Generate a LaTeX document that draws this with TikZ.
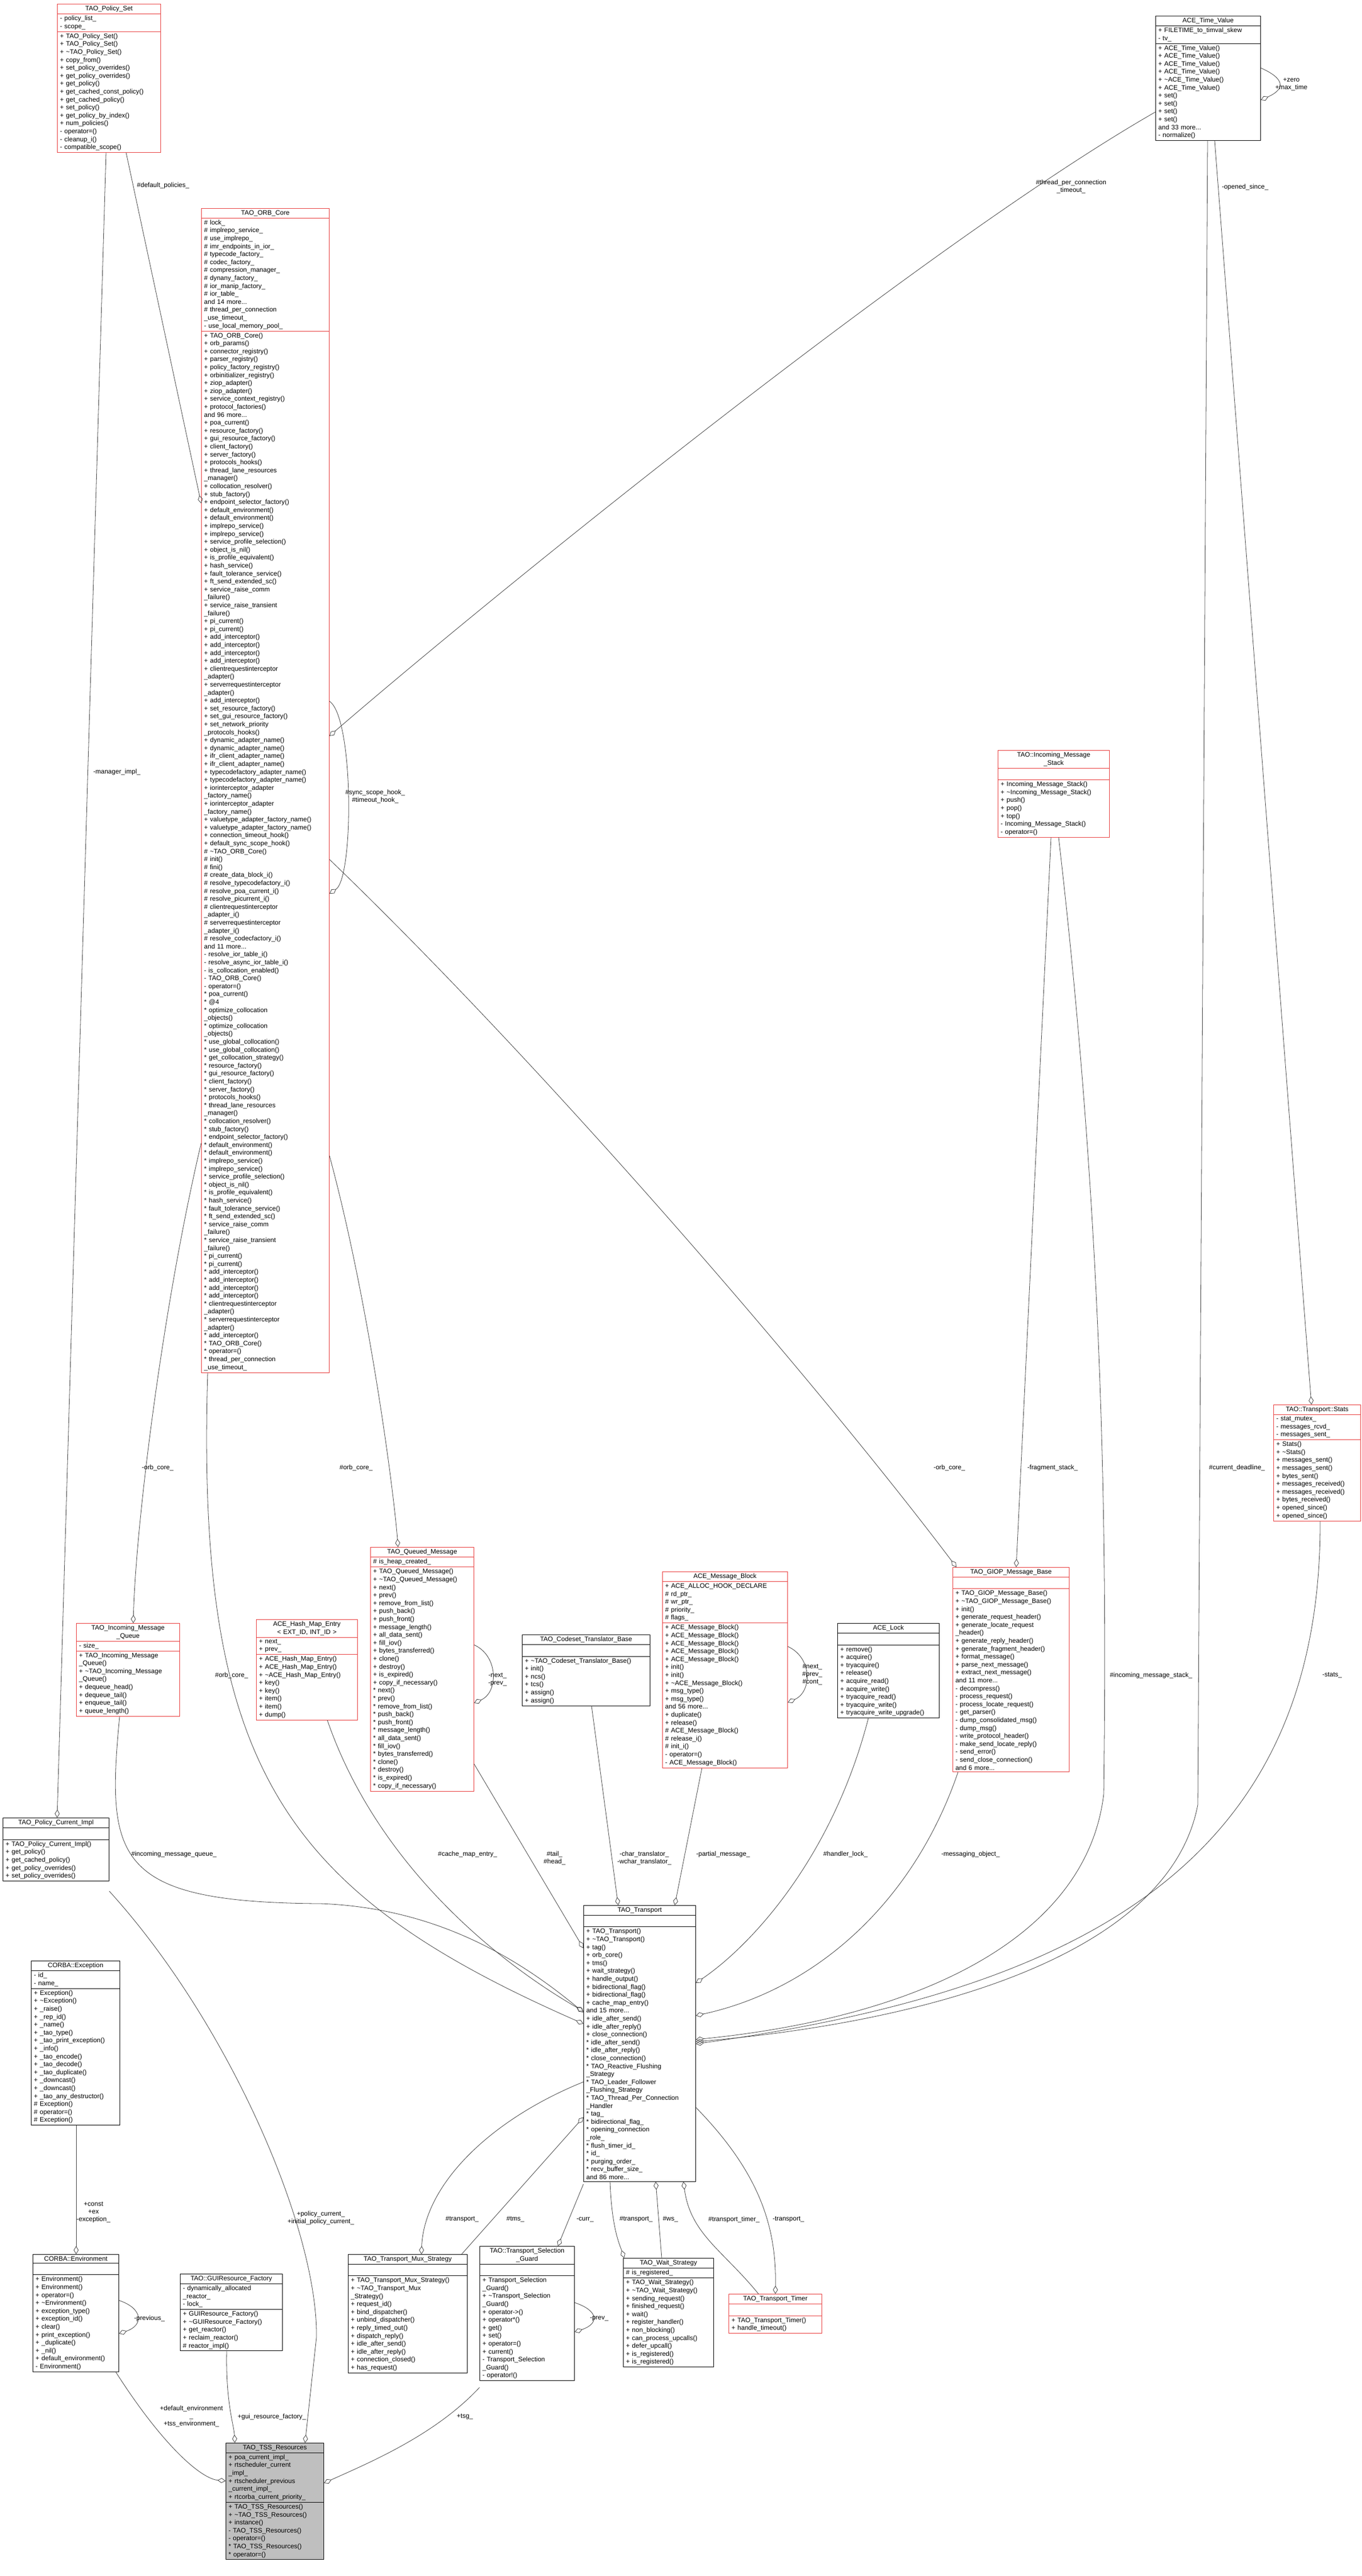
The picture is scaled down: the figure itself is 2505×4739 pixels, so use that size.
\documentclass[tikz,border=0pt]{standalone}
\usepackage{fontspec}
\setmainfont{Liberation Sans}
\usetikzlibrary{shapes.multipart,arrows.meta}
\definecolor{umlred}{HTML}{E83A3A}
\definecolor{umlgrey}{HTML}{BFBFBF}
\definecolor{linegrey}{HTML}{404040}
\newcommand\classfont{\fontsize{12}{14.6}\selectfont}
\newcommand\rolefont{\fontsize{12}{14}\selectfont}
\newcommand\tld{\textasciitilde}
\newcommand\fr{*}
% class box: style, name, x, y, text width, title, attributes, methods
\newcommand\classnode[8]{%
  \node[#1, text width=#5] (#2) at (#3,#4)
    {\centering #6\par\nodepart{two}\raggedright #7\par\nodepart{three}\raggedright #8\par};}
\tikzset{
  classbox/.style={draw, rectangle split, rectangle split parts=3, anchor=north west,
    inner xsep=5pt, inner ysep=3pt, font=\classfont, line width=0.9pt},
  redbox/.style={classbox, draw=umlred},
  blackbox/.style={classbox, draw=black},
  tssbox/.style={classbox, draw=black, fill=umlgrey},
  assoc/.style={draw=linegrey, line width=0.8pt, -{Diamond[open,length=15pt,width=9pt]}},
  rolelabel/.style={font=\rolefont, align=center, inner sep=1pt}
}
\AtBeginDocument{\catcode`\_=12 }
\begin{document}
\begin{tikzpicture}[x=1pt,y=-1pt]
  \fill[white] (0,0) rectangle (2505,4739);
  \useasboundingbox (0,0) rectangle (2505,4739);

  % classes
  \classnode{redbox}{policyset}{105}{7}{180}{TAO_Policy_Set}
    {- policy_list_\\- scope_}
    {+ TAO_Policy_Set()\\+ TAO_Policy_Set()\\+ \tld TAO_Policy_Set()\\+ copy_from()\\+ set_policy_overrides()\\+ get_policy_overrides()\\+ get_policy()\\+ get_cached_const_policy()\\+ get_cached_policy()\\+ set_policy()\\+ get_policy_by_index()\\+ num_policies()\\- operator=()\\- cleanup_i()\\- compatible_scope()}
  \classnode{redbox}{orbcore}{370}{383}{225}{TAO_ORB_Core}
    {\# lock_\\\# implrepo_service_\\\# use_implrepo_\\\# imr_endpoints_in_ior_\\\# typecode_factory_\\\# codec_factory_\\\# compression_manager_\\\# dynany_factory_\\\# ior_manip_factory_\\\# ior_table_\\and 14 more...\\\# thread_per_connection\\_use_timeout_\\- use_local_memory_pool_}
    {+ TAO_ORB_Core()\\+ orb_params()\\+ connector_registry()\\+ parser_registry()\\+ policy_factory_registry()\\+ orbinitializer_registry()\\+ ziop_adapter()\\+ ziop_adapter()\\+ service_context_registry()\\+ protocol_factories()\\and 96 more...\\+ poa_current()\\+ resource_factory()\\+ gui_resource_factory()\\+ client_factory()\\+ server_factory()\\+ protocols_hooks()\\+ thread_lane_resources\\_manager()\\+ collocation_resolver()\\+ stub_factory()\\+ endpoint_selector_factory()\\+ default_environment()\\+ default_environment()\\+ implrepo_service()\\+ implrepo_service()\\+ service_profile_selection()\\+ object_is_nil()\\+ is_profile_equivalent()\\+ hash_service()\\+ fault_tolerance_service()\\+ ft_send_extended_sc()\\+ service_raise_comm\\_failure()\\+ service_raise_transient\\_failure()\\+ pi_current()\\+ pi_current()\\+ add_interceptor()\\+ add_interceptor()\\+ add_interceptor()\\+ add_interceptor()\\+ clientrequestinterceptor\\_adapter()\\+ serverrequestinterceptor\\_adapter()\\+ add_interceptor()\\+ set_resource_factory()\\+ set_gui_resource_factory()\\+ set_network_priority\\_protocols_hooks()\\+ dynamic_adapter_name()\\+ dynamic_adapter_name()\\+ ifr_client_adapter_name()\\+ ifr_client_adapter_name()\\+ typecodefactory_adapter_name()\\+ typecodefactory_adapter_name()\\+ iorinterceptor_adapter\\_factory_name()\\+ iorinterceptor_adapter\\_factory_name()\\+ valuetype_adapter_factory_name()\\+ valuetype_adapter_factory_name()\\+ connection_timeout_hook()\\+ default_sync_scope_hook()\\\# \tld TAO_ORB_Core()\\\# init()\\\# fini()\\\# create_data_block_i()\\\# resolve_typecodefactory_i()\\\# resolve_poa_current_i()\\\# resolve_picurrent_i()\\\# clientrequestinterceptor\\_adapter_i()\\\# serverrequestinterceptor\\_adapter_i()\\\# resolve_codecfactory_i()\\and 11 more...\\- resolve_ior_table_i()\\- resolve_async_ior_table_i()\\- is_collocation_enabled()\\- TAO_ORB_Core()\\- operator=()\\\fr{} poa_current()\\\fr{} @4\\\fr{} optimize_collocation\\_objects()\\\fr{} optimize_collocation\\_objects()\\\fr{} use_global_collocation()\\\fr{} use_global_collocation()\\\fr{} get_collocation_strategy()\\\fr{} resource_factory()\\\fr{} gui_resource_factory()\\\fr{} client_factory()\\\fr{} server_factory()\\\fr{} protocols_hooks()\\\fr{} thread_lane_resources\\_manager()\\\fr{} collocation_resolver()\\\fr{} stub_factory()\\\fr{} endpoint_selector_factory()\\\fr{} default_environment()\\\fr{} default_environment()\\\fr{} implrepo_service()\\\fr{} implrepo_service()\\\fr{} service_profile_selection()\\\fr{} object_is_nil()\\\fr{} is_profile_equivalent()\\\fr{} hash_service()\\\fr{} fault_tolerance_service()\\\fr{} ft_send_extended_sc()\\\fr{} service_raise_comm\\_failure()\\\fr{} service_raise_transient\\_failure()\\\fr{} pi_current()\\\fr{} pi_current()\\\fr{} add_interceptor()\\\fr{} add_interceptor()\\\fr{} add_interceptor()\\\fr{} add_interceptor()\\\fr{} clientrequestinterceptor\\_adapter()\\\fr{} serverrequestinterceptor\\_adapter()\\\fr{} add_interceptor()\\\fr{} TAO_ORB_Core()\\\fr{} operator=()\\\fr{} thread_per_connection\\_use_timeout_}
  \classnode{blackbox}{timevalue}{2125}{29}{183}{ACE_Time_Value}
    {+ FILETIME_to_timval_skew\\- tv_}
    {+ ACE_Time_Value()\\+ ACE_Time_Value()\\+ ACE_Time_Value()\\+ ACE_Time_Value()\\+ \tld ACE_Time_Value()\\+ ACE_Time_Value()\\+ set()\\+ set()\\+ set()\\+ set()\\and 33 more...\\- normalize()}
  \classnode{redbox}{msgstack}{1835}{1380}{195}{TAO::Incoming_Message\\_Stack}
    {\strut}
    {+ Incoming_Message_Stack()\\+ \tld Incoming_Message_Stack()\\+ push()\\+ pop()\\+ top()\\- Incoming_Message_Stack()\\- operator=()}
  \classnode{redbox}{stats}{2342}{2584}{150}{TAO::Transport::Stats}
    {- stat_mutex_\\- messages_rcvd_\\- messages_sent_}
    {+ Stats()\\+ \tld Stats()\\+ messages_sent()\\+ messages_sent()\\+ bytes_sent()\\+ messages_received()\\+ messages_received()\\+ bytes_received()\\+ opened_since()\\+ opened_since()}
  \classnode{redbox}{msgqueue}{140}{2986}{180}{TAO_Incoming_Message\\_Queue}
    {- size_}
    {+ TAO_Incoming_Message\\_Queue()\\+ \tld TAO_Incoming_Message\\_Queue()\\+ dequeue_head()\\+ dequeue_tail()\\+ enqueue_tail()\\+ queue_length()}
  \classnode{redbox}{hashentry}{471}{2979}{176}{ACE_Hash_Map_Entry\\< EXT_ID, INT_ID >}
    {+ next_\\+ prev_}
    {+ ACE_Hash_Map_Entry()\\+ ACE_Hash_Map_Entry()\\+ \tld ACE_Hash_Map_Entry()\\+ key()\\+ key()\\+ item()\\+ item()\\+ dump()}
  \classnode{redbox}{queuedmsg}{681}{2846}{180}{TAO_Queued_Message}
    {\# is_heap_created_}
    {+ TAO_Queued_Message()\\+ \tld TAO_Queued_Message()\\+ next()\\+ prev()\\+ remove_from_list()\\+ push_back()\\+ push_front()\\+ message_length()\\+ all_data_sent()\\+ fill_iov()\\+ bytes_transferred()\\+ clone()\\+ destroy()\\+ is_expired()\\+ copy_if_necessary()\\\fr{} next()\\\fr{} prev()\\\fr{} remove_from_list()\\\fr{} push_back()\\\fr{} push_front()\\\fr{} message_length()\\\fr{} all_data_sent()\\\fr{} fill_iov()\\\fr{} bytes_transferred()\\\fr{} clone()\\\fr{} destroy()\\\fr{} is_expired()\\\fr{} copy_if_necessary()}
  \classnode{blackbox}{codeset}{960}{3007}{225}{TAO_Codeset_Translator_Base}
    {\strut}
    {+ \tld TAO_Codeset_Translator_Base()\\+ init()\\+ ncs()\\+ tcs()\\+ assign()\\+ assign()}
  \classnode{redbox}{msgblock}{1218}{2891}{220}{ACE_Message_Block}
    {+ ACE_ALLOC_HOOK_DECLARE\\\# rd_ptr_\\\# wr_ptr_\\\# priority_\\\# flags_}
    {+ ACE_Message_Block()\\+ ACE_Message_Block()\\+ ACE_Message_Block()\\+ ACE_Message_Block()\\+ ACE_Message_Block()\\+ init()\\+ init()\\+ \tld ACE_Message_Block()\\+ msg_type()\\+ msg_type()\\and 56 more...\\+ duplicate()\\+ release()\\\# ACE_Message_Block()\\\# release_i()\\\# init_i()\\- operator=()\\- ACE_Message_Block()}
  \classnode{blackbox}{acelock}{1540}{2986}{177}{ACE_Lock}
    {\strut}
    {+ remove()\\+ acquire()\\+ tryacquire()\\+ release()\\+ acquire_read()\\+ acquire_write()\\+ tryacquire_read()\\+ tryacquire_write()\\+ tryacquire_write_upgrade()}
  \classnode{redbox}{giop}{1752}{2883}{204}{TAO_GIOP_Message_Base}
    {\strut}
    {+ TAO_GIOP_Message_Base()\\+ \tld TAO_GIOP_Message_Base()\\+ init()\\+ generate_request_header()\\+ generate_locate_request\\_header()\\+ generate_reply_header()\\+ generate_fragment_header()\\+ format_message()\\+ parse_next_message()\\+ extract_next_message()\\and 11 more...\\- decompress()\\- process_request()\\- process_locate_request()\\- get_parser()\\- dump_consolidated_msg()\\- dump_msg()\\- write_protocol_header()\\- make_send_locate_reply()\\- send_error()\\- send_close_connection()\\and 6 more...}
  \classnode{blackbox}{currentimpl}{5}{3344}{185}{TAO_Policy_Current_Impl}
    {\strut}
    {+ TAO_Policy_Current_Impl()\\+ get_policy()\\+ get_cached_policy()\\+ get_policy_overrides()\\+ set_policy_overrides()}
  \classnode{blackbox}{transport}{1073}{3505}{196}{TAO_Transport}
    {\strut}
    {+ TAO_Transport()\\+ \tld TAO_Transport()\\+ tag()\\+ orb_core()\\+ tms()\\+ wait_strategy()\\+ handle_output()\\+ bidirectional_flag()\\+ bidirectional_flag()\\+ cache_map_entry()\\and 15 more...\\+ idle_after_send()\\+ idle_after_reply()\\+ close_connection()\\\fr{} idle_after_send()\\\fr{} idle_after_reply()\\\fr{} close_connection()\\\fr{} TAO_Reactive_Flushing\\_Strategy\\\fr{} TAO_Leader_Follower\\_Flushing_Strategy\\\fr{} TAO_Thread_Per_Connection\\_Handler\\\fr{} tag_\\\fr{} bidirectional_flag_\\\fr{} opening_connection\\_role_\\\fr{} flush_timer_id_\\\fr{} id_\\\fr{} purging_order_\\\fr{} recv_buffer_size_\\and 86 more...}
  \classnode{blackbox}{exception}{57}{3607}{153}{CORBA::Exception}
    {- id_\\- name_}
    {+ Exception()\\+ \tld Exception()\\+ _raise()\\+ _rep_id()\\+ _name()\\+ _tao_type()\\+ _tao_print_exception()\\+ _info()\\+ _tao_encode()\\+ _tao_decode()\\+ _tao_duplicate()\\+ _downcast()\\+ _downcast()\\+ _tao_any_destructor()\\\# Exception()\\\# operator=()\\\# Exception()}
  \classnode{blackbox}{environment}{60}{4147}{148}{CORBA::Environment}
    {\strut}
    {+ Environment()\\+ Environment()\\+ operator=()\\+ \tld Environment()\\+ exception_type()\\+ exception_id()\\+ clear()\\+ print_exception()\\+ _duplicate()\\+ _nil()\\+ default_environment()\\- Environment()}
  \classnode{blackbox}{guifactory}{331}{4183}{178}{TAO::GUIResource_Factory}
    {- dynamically_allocated\\_reactor_\\- lock_}
    {+ GUIResource_Factory()\\+ \tld GUIResource_Factory()\\+ get_reactor()\\+ reclaim_reactor()\\\# reactor_impl()}
  \classnode{blackbox}{muxstrategy}{640}{4147}{209}{TAO_Transport_Mux_Strategy}
    {\strut}
    {+ TAO_Transport_Mux_Strategy()\\+ \tld TAO_Transport_Mux\\_Strategy()\\+ request_id()\\+ bind_dispatcher()\\+ unbind_dispatcher()\\+ reply_timed_out()\\+ dispatch_reply()\\+ idle_after_send()\\+ idle_after_reply()\\+ connection_closed()\\+ has_request()}
  \classnode{blackbox}{selguard}{882}{4132}{164}{TAO::Transport_Selection\\_Guard}
    {\strut}
    {+ Transport_Selection\\_Guard()\\+ \tld Transport_Selection\\_Guard()\\+ operator->()\\+ operator\fr()\\+ get()\\+ set()\\+ operator=()\\+ current()\\- Transport_Selection\\_Guard()\\- operator!()}
  \classnode{blackbox}{waitstrategy}{1146}{4154}{156}{TAO_Wait_Strategy}
    {\# is_registered_}
    {+ TAO_Wait_Strategy()\\+ \tld TAO_Wait_Strategy()\\+ sending_request()\\+ finished_request()\\+ wait()\\+ register_handler()\\+ non_blocking()\\+ can_process_upcalls()\\+ defer_upcall()\\+ is_registered()\\+ is_registered()}
  \classnode{redbox}{transporttimer}{1340}{4220}{161}{TAO_Transport_Timer}
    {\strut}
    {+ TAO_Transport_Timer()\\+ handle_timeout()}
  \classnode{tssbox}{tssres}{415}{4494}{170}{TAO_TSS_Resources}
    {+ poa_current_impl_\\+ rtscheduler_current\\_impl_\\+ rtscheduler_previous\\_current_impl_\\+ rtcorba_current_priority_}
    {+ TAO_TSS_Resources()\\+ \tld TAO_TSS_Resources()\\+ instance()\\- TAO_TSS_Resources()\\- operator=()\\\fr{} TAO_TSS_Resources()\\\fr{} operator=()}

  % associations, diamond at the owning class
  \draw[assoc] ([xshift=127]policyset.south west) -- ([yshift=-543]orbcore.north west);
  \draw[assoc] ([xshift=90]policyset.south west) -- ([xshift=100]currentimpl.north west);
  \draw[assoc] ([yshift=-177]timevalue.north west) .. controls (1700,450) and (900,1100) .. ([yshift=-971]orbcore.north east);
  \draw[assoc] ([yshift=-907]orbcore.north east) .. controls +(45,30) and +(45,-30) .. ([yshift=-1261]orbcore.north east);
  \draw[assoc] ([yshift=-1198]orbcore.north east) .. controls (1000,1960) and (1500,2540) .. ([xshift=7]giop.north west);
  \draw[assoc] ([yshift=-1720]orbcore.north west) .. controls (300,2400) and (250,2800) .. ([xshift=105]msgqueue.north west);
  \draw[assoc] ([yshift=-1743]orbcore.north east) .. controls (680,2400) and (725,2750) .. ([xshift=51]queuedmsg.north west);
  \draw[assoc] ([xshift=12]orbcore.south west) .. controls (360,3250) and (520,3480) .. ([yshift=-218]transport.north west);
  \draw[assoc] ([xshift=80]msgqueue.south west) .. controls (195,3420) and (210,3500) .. (590,3502)
    .. controls (800,3510) and (950,3600) .. ([yshift=-197]transport.north west);
  \draw[assoc] ([xshift=131]hashentry.south west) .. controls (690,3420) and (900,3600) .. ([yshift=-195]transport.north west);
  \draw[assoc] ([yshift=-399]queuedmsg.north east) -- ([yshift=-79]transport.north west);
  \draw[assoc] ([yshift=-180]queuedmsg.north east) .. controls +(45,20) and +(45,-20) .. ([yshift=-287]queuedmsg.north east);
  \draw[assoc] ([xshift=128]codeset.south west) -- ([xshift=64]transport.north west);
  \draw[assoc] ([xshift=73]msgblock.south west) -- ([xshift=168]transport.north west);
  \draw[assoc] ([yshift=-138]msgblock.north east) .. controls +(45,20) and +(45,-20) .. ([yshift=-241]msgblock.north east);
  \draw[assoc] ([xshift=57]acelock.south west) .. controls (1530,3420) and (1380,3580) .. ([yshift=-143]transport.north east);
  \draw[assoc] ([xshift=10]giop.south west) .. controls (1680,3500) and (1500,3660) .. ([yshift=-203]transport.north east);
  \draw[assoc] ([xshift=98]msgstack.south west) -- ([xshift=117]giop.north west);
  \draw[assoc] ([xshift=112]msgstack.south west) .. controls (2035,2300) and (2035,2900) .. (2030,3300)
    .. controls (2000,3560) and (1700,3710) .. ([yshift=-247]transport.north east);
  \draw[assoc] ([xshift=96]timevalue.south west) -- (2203,3320)
    .. controls (2150,3600) and (1700,3720) .. ([yshift=-251]transport.north east);
  \draw[assoc] ([xshift=109]timevalue.south west) -- ([xshift=70]stats.north west);
  \draw[assoc] ([yshift=-96]timevalue.north east) .. controls +(45,20) and +(45,-20) .. ([yshift=-155]timevalue.north east);
  \draw[assoc] ([xshift=86]stats.south west) .. controls (2430,3420) and (2000,3660) .. ([yshift=-255]transport.north east);
  \draw[assoc] ([yshift=-135]currentimpl.north east) .. controls (420,3720) and (585,4100) .. (582,4300)
    -- ([xshift=146]tssres.north west);
  \draw[assoc] ([xshift=83]exception.south west) -- ([xshift=80]environment.north west);
  \draw[assoc] ([yshift=-85]environment.north east) .. controls +(45,15) and +(45,-15) .. ([yshift=-146]environment.north east);
  \draw[assoc] ([xshift=153]environment.south west) .. controls (300,4500) and (370,4560) .. ([yshift=-70]tssres.north west);
  \draw[assoc] ([xshift=86]guifactory.south west) .. controls (415,4420) and (430,4460) .. ([xshift=17]tssres.north west);
  \draw[assoc] ([yshift=-260]selguard.north west) .. controls (800,4480) and (680,4530) .. ([yshift=-74]tssres.north east);
  \draw[assoc] ([yshift=-104]selguard.north east) .. controls +(45,15) and +(45,-15) .. ([yshift=-158]selguard.north east);
  \draw[assoc] ([yshift=-513]transport.north west) -- ([xshift=144]selguard.north west);
  \draw[assoc] ([xshift=209]muxstrategy.north west) -- ([yshift=-390]transport.north west);
  \draw[assoc] ([yshift=-325]transport.north west) .. controls (900,3900) and (780,4020) .. ([xshift=135]muxstrategy.north west);
  \draw[assoc] ([xshift=49]transport.south west) .. controls (1125,4100) and (1140,4130) .. ([xshift=2]waitstrategy.north west);
  \draw[assoc] ([xshift=71]waitstrategy.north west) -- ([xshift=133]transport.south west);
  \draw[assoc] ([xshift=55]transporttimer.north west) .. controls (1330,4140) and (1270,4110) .. ([xshift=184]transport.south west);
  \draw[assoc] ([yshift=-372]transport.north east) .. controls (1400,4000) and (1428,4100) .. ([xshift=86]transporttimer.north west);

  % role labels
  \node[rolelabel] (defpol) at (300,341) {\#default_policies_};
  \node[rolelabel] (mgrimpl) at (215,1420) {-manager_impl_};
  \node[rolelabel] (tpctimeout) at (1970,343) {\#thread_per_connection\\_timeout_};
  \node[rolelabel] (openedsince) at (2290,344) {-opened_since_};
  \node[rolelabel] (zeromax) at (2375,155) {+zero\\+max_time};
  \node[rolelabel] (hooks) at (690,1465) {\#sync_scope_hook_\\\#timeout_hook_};
  \node[rolelabel] (orbcoreq) at (290,2700) {-orb_core_};
  \node[rolelabel] (orbcorqm) at (655,2700) {\#orb_core_};
  \node[rolelabel] (orbcorgiop) at (1746,2700) {-orb_core_};
  \node[rolelabel] (fragstack) at (1936,2700) {-fragment_stack_};
  \node[rolelabel] (curdeadline) at (2275,2700) {\#current_deadline_};
  \node[rolelabel] (orbcortr) at (426,3082) {\#orb_core_};
  \node[rolelabel] (nextprev) at (915,3090) {-next_\\-prev_};
  \node[rolelabel] (nextprevcont) at (1494,3081) {\#next_\\\#prev_\\\#cont_};
  \node[rolelabel] (inmsgstack) at (2117,3082) {\#incoming_message_stack_};
  \node[rolelabel] (statsl) at (2450,3082) {-stats_};
  \node[rolelabel] (inmsgqueue) at (320,3411) {\#incoming_message_queue_};
  \node[rolelabel] (cacheentry) at (860,3411) {\#cache_map_entry_};
  \node[rolelabel] (tailhead) at (1020,3418) {\#tail_\\\#head_};
  \node[rolelabel] (translators) at (1185,3418) {-char_translator_\\-wchar_translator_};
  \node[rolelabel] (partialmsg) at (1330,3411) {-partial_message_};
  \node[rolelabel] (handlerlock) at (1555,3411) {\#handler_lock_};
  \node[rolelabel] (msgobject) at (1785,3411) {-messaging_object_};
  \node[rolelabel] (constex) at (172,4070) {+const\\+ex\\-exception_};
  \node[rolelabel] (policycur) at (590,4080) {+policy_current_\\+initial_policy_current_};
  \node[rolelabel] (muxtransport) at (850,4083) {\#transport_};
  \node[rolelabel] (tmsl) at (948,4083) {\#tms_};
  \node[rolelabel] (currl) at (1076,4083) {-curr_};
  \node[rolelabel] (waittransport) at (1170,4083) {\#transport_};
  \node[rolelabel] (wsl) at (1233,4083) {\#ws_};
  \node[rolelabel] (timerl) at (1350,4083) {\#transport_timer_};
  \node[rolelabel] (timertransport) at (1450,4083) {-transport_};
  \node[rolelabel] (previousl) at (275,4265) {-previous_};
  \node[rolelabel] (prevl) at (1102,4265) {-prev_};
  \node[rolelabel] (envs) at (352,4445) {+default_environment\\_\\+tss_environment_};
  \node[rolelabel] (guil) at (500,4446) {+gui_resource_factory_};
  \node[rolelabel] (tsgl) at (855,4446) {+tsg_};
\end{tikzpicture}
\end{document}
